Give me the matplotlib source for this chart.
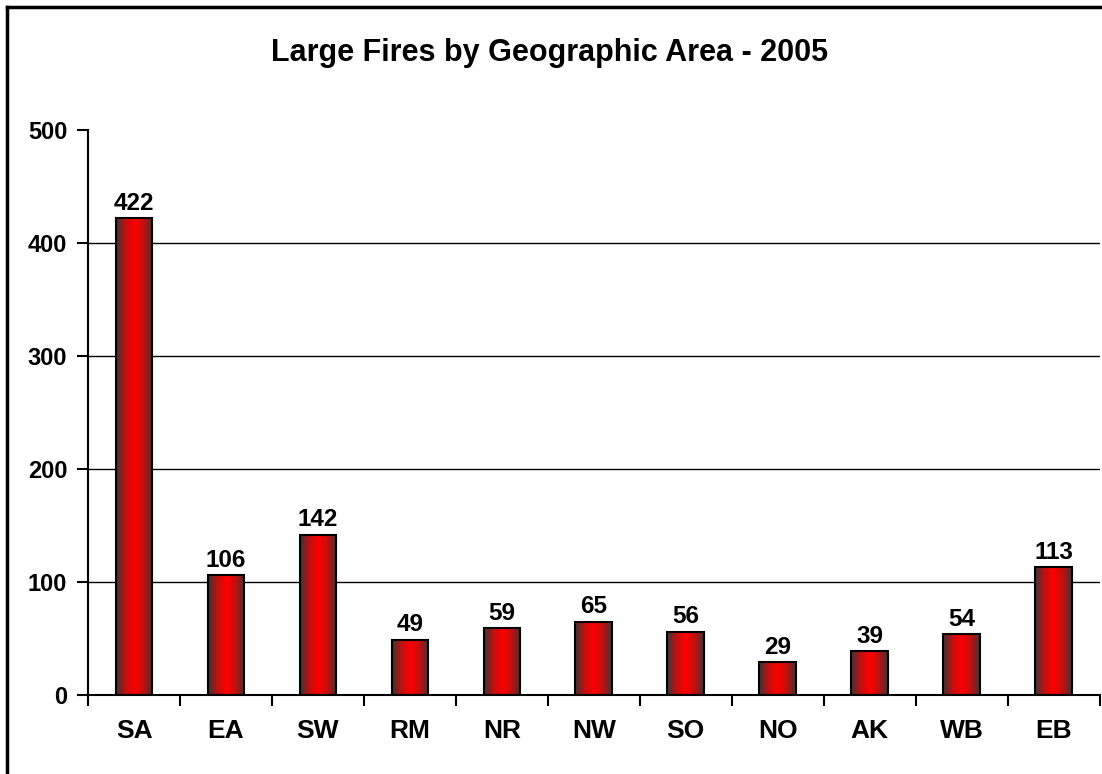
import numpy as np
import matplotlib.pyplot as plt
from matplotlib.colors import LinearSegmentedColormap

plt.rcParams['font.family'] = ['Liberation Sans', 'DejaVu Sans']

areas = ["SA", "EA", "SW", "RM", "NR", "NW", "SO", "NO", "AK", "WB", "EB"]
fires = [422, 106, 142, 49, 59, 65, 56, 29, 39, 54, 113]
titulo = "Large Fires by Geographic Area - 2005"

fig = plt.figure(figsize=(11.02, 7.74), dpi=100)
ax = fig.add_axes([0.0799, 0.102, 0.918, 0.730])

x = np.arange(len(areas))
barras = ax.bar(x, fires, width=0.4, color="none", edgecolor="black", linewidth=1.5, zorder=3)

# degradado oscuro-rojo-oscuro en cada barra
cmap = LinearSegmentedColormap.from_list("rojo", ["#3c3434", "#c01010", "#ff0000", "#c01010", "#3c3434"])
grad = np.linspace(0, 1, 256).reshape(1, -1)
for b in barras:
    x0, y0 = b.get_x(), b.get_y()
    ax.imshow(grad, cmap=cmap, aspect="auto", extent=(x0, x0 + b.get_width(), y0, y0 + b.get_height()),
              zorder=2)

for xi, v in zip(x, fires):
    ax.text(xi, v + 3, str(v), ha="center", va="bottom", fontsize=17.5, fontweight="bold")

for g in [100, 200, 300, 400]:
    ax.axhline(g, color="black", linewidth=1, zorder=1)

ax.set_xlim(-0.5, len(areas) - 0.5)
ax.set_ylim(0, 500)
ax.set_yticks([0, 100, 200, 300, 400, 500])
ax.set_yticklabels(["0", "100", "200", "300", "400", "500"], fontsize=17, fontweight="bold")
ax.set_xticks(x)
ax.set_xticklabels(areas, fontsize=19, fontweight="bold")
ax.set_xticks(np.arange(len(areas) + 1) - 0.5, minor=True)
ax.tick_params(axis="x", which="major", length=0, pad=17)
ax.tick_params(axis="x", which="minor", length=8, width=1.5, direction="out")
ax.tick_params(axis="y", length=8, width=1.5, direction="out", pad=7)

ax.spines["top"].set_visible(False)
ax.spines["right"].set_visible(False)
ax.spines["left"].set_linewidth(1.5)
ax.spines["bottom"].set_linewidth(1.5)

fig.text(0.499, 0.931, titulo, ha="center", va="center", fontsize=22, fontweight="bold")

# marco del grafico
fig.add_artist(plt.Line2D([0.0068, 0.0068], [0, 0.991], color="black", linewidth=2.5))
fig.add_artist(plt.Line2D([0.0068, 1], [0.991, 0.991], color="black", linewidth=2.5))

fig.savefig("out.png", dpi=100)
